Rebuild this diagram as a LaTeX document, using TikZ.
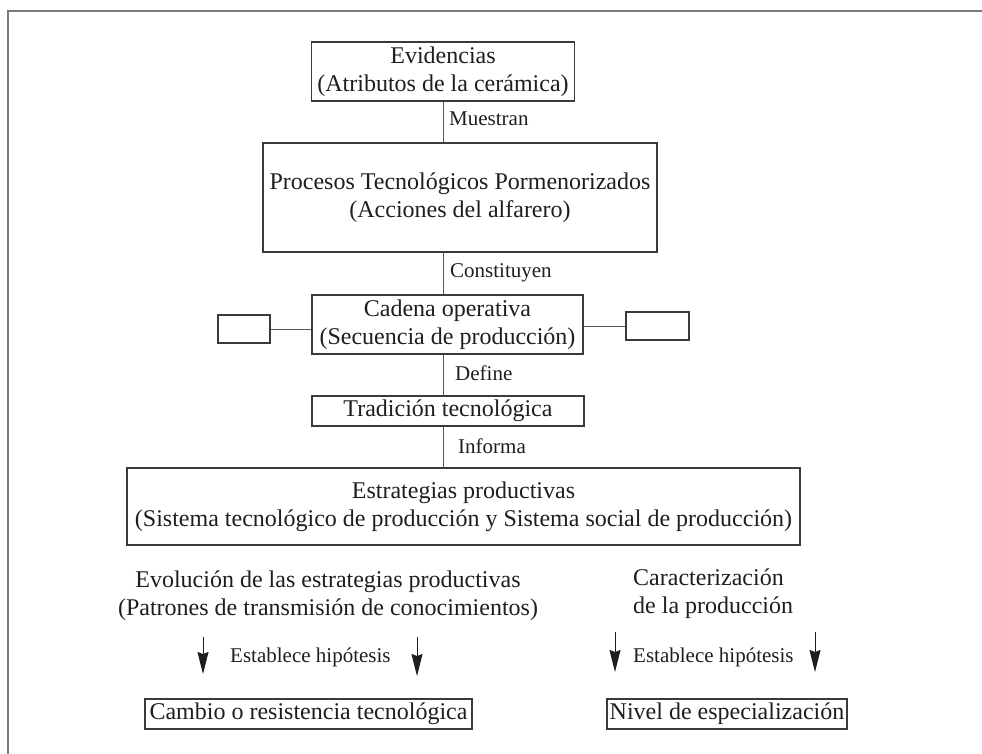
\documentclass[tikz,border=0pt]{standalone}
\usepackage{fontspec}
\setmainfont{Liberation Serif}
\usetikzlibrary{arrows.meta}

\definecolor{ink}{HTML}{1E1E1E}
\definecolor{boxline}{HTML}{3A3A3A}
\definecolor{rule}{HTML}{7A7A7A}

\newcommand\mainsize{\fontsize{24}{28}\selectfont}
\newcommand\labsize{\fontsize{21}{25}\selectfont}

\tikzset{
  box/.style={draw=boxline, line width=1.2pt, rectangle, inner sep=0pt,
              align=center, font=\mainsize, text=ink},
  stub/.style={draw=boxline, line width=1.2pt, rectangle, inner sep=0pt},
  freetext/.style={inner sep=0pt, font=\mainsize, text=ink},
  linklabel/.style={inner sep=0pt, font=\labsize, text=ink, anchor=base west},
  conn/.style={draw=boxline!85, line width=1pt},
  frameline/.style={draw=rule, line width=2pt},
  downarrow/.style={draw=ink, line width=1pt,
                    -{Stealth[length=22pt, width=11pt, inset=2pt]}}
}

\begin{document}
\begin{tikzpicture}[x=1pt, y=-1pt]
  \useasboundingbox (0,0) rectangle (982,754);

  % open frame: top and left rules
  \draw[frameline] (982,11) -- (8,11) -- (8,754);

  % vertical spine of the chain
  \coordinate (spine) at (443,0);

  % main chain of boxes
  \node[box, minimum width=263pt, minimum height=59pt] (evid) at (443,71.5)
    {Evidencias\\(Atributos de la cerámica)};
  \node[box, minimum width=394pt, minimum height=109pt] (proc) at (460,197.5)
    {Procesos Tecnológicos Pormenorizados\\(Acciones del alfarero)};
  \node[box, minimum width=271pt, minimum height=59pt] (cad) at (447.5,324.5)
    {Cadena operativa\\(Secuencia de producción)};
  \node[stub, minimum width=52pt, minimum height=28pt] (lstub) at (244,329) {};
  \node[stub, minimum width=63pt, minimum height=28pt] (rstub) at (657.5,326) {};
  \node[box, minimum width=272pt, minimum height=30pt] (trad) at (448,411)
    {Tradición tecnológica};
  \node[box, minimum width=673pt, minimum height=77pt] (estr) at (463.5,506.5)
    {Estrategias productivas\\(Sistema tecnológico de producción y Sistema social de producción)};

  % connectors along the spine
  \draw[conn] (evid.south -| spine) -- (proc.north -| spine);
  \draw[conn] (proc.south -| spine) -- (cad.north -| spine);
  \draw[conn] (cad.south -| spine) -- (trad.north -| spine);
  \draw[conn] (trad.south -| spine) -- (estr.north -| spine);
  \draw[conn] (lstub.east) -- (lstub.east -| cad.west);
  \draw[conn] (rstub.west) -- (rstub.west -| cad.east);

  % connector labels
  \node[linklabel] (lmuestran) at (449,126) {Muestran};
  \node[linklabel] (lconst) at (450,277) {Constituyen};
  \node[linklabel] (ldefine) at (455,380) {Define};
  \node[linklabel] (linforma) at (458,453) {Informa};

  % lower left branch
  \node[freetext, align=center] (evol) at (328,595.5)
    {Evolución de las estrategias productivas\\(Patrones de transmisión de conocimientos)};
  \coordinate (a1s) at (203,637);
  \coordinate (a1e) at (203,674);
  \coordinate (a2s) at (417,637);
  \coordinate (a2e) at (417,676);
  \draw[downarrow] (a1s) -- (a1e);
  \draw[downarrow] (a2s) -- (a2e);
  \node[linklabel] (lhip1) at (230,662) {Establece hipótesis};
  \node[box, minimum width=327pt, minimum height=30pt] (cambio) at (308.5,714)
    {Cambio o resistencia tecnológica};

  % lower right branch
  \node[freetext, align=left, anchor=west] (carac) at (633,593.5)
    {Caracterización\\de la producción};
  \coordinate (a3s) at (615,632);
  \coordinate (a3e) at (615,672);
  \coordinate (a4s) at (815,632);
  \coordinate (a4e) at (815,672);
  \draw[downarrow] (a3s) -- (a3e);
  \draw[downarrow] (a4s) -- (a4e);
  \node[linklabel] (lhip2) at (633,662) {Establece hipótesis};
  \node[box, minimum width=240pt, minimum height=30pt] (nivel) at (727,714)
    {Nivel de especialización};
\end{tikzpicture}
\end{document}
